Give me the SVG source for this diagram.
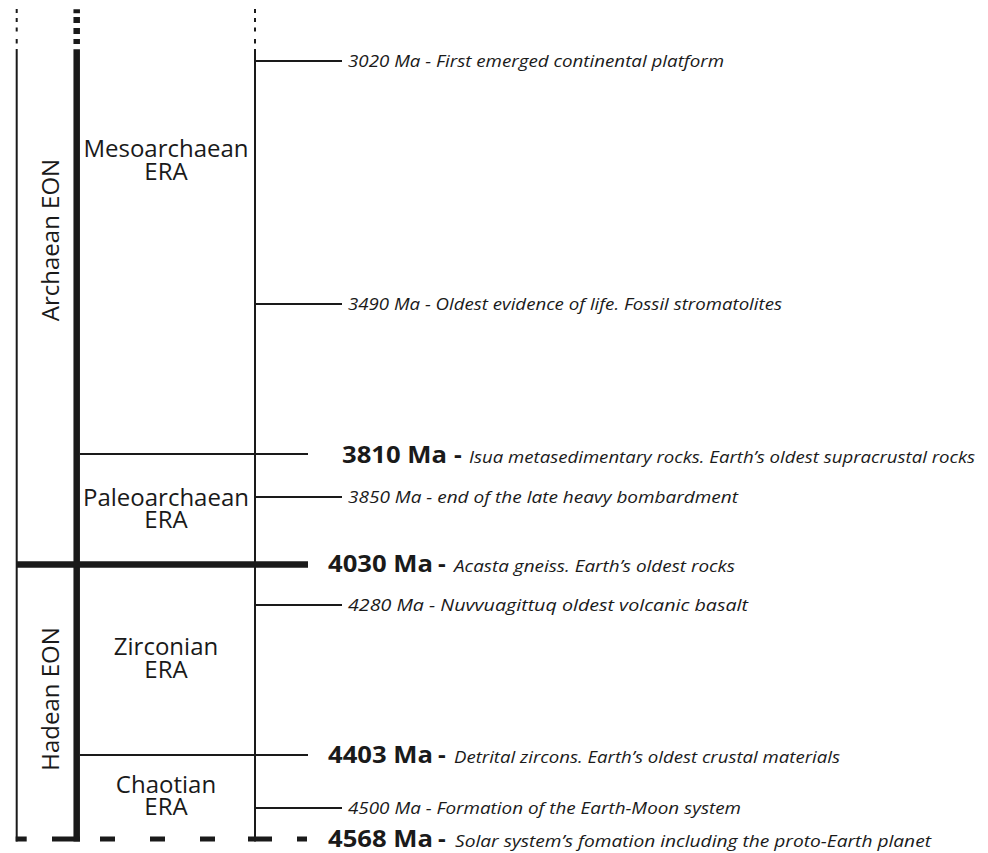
<svg xmlns="http://www.w3.org/2000/svg" width="988" height="853" viewBox="0 0 988 853">
  <style>
    .ink { fill: #1a1a1a; }
    .thin { stroke: #1a1a1a; stroke-width: 2; fill: none; }
    .heavy { stroke: #1a1a1a; stroke-width: 6.5; fill: none; }
    .label { font-family: "Open Sans", "Liberation Sans", sans-serif; font-size: 24px; fill: #1a1a1a; text-anchor: middle; }
    .date { font-family: "Open Sans", "Liberation Sans", sans-serif; font-size: 24px; font-weight: bold; fill: #1a1a1a; }
    .note { font-family: "Open Sans", "Liberation Sans", sans-serif; font-size: 17px; font-style: italic; fill: #1a1a1a; }
  </style>

  <!-- column rules and time markers -->
  <g id="connectors">
    <!-- outer eon rule -->
    <path class="thin" d="M16.7 9v4M16.7 18v4M16.7 27.5v4M16.7 39v4.5M16.7 49V841.5"/>
    <!-- era rule (heavy) -->
    <path class="heavy" d="M76.7 9.3v4M76.7 17v6M76.7 28v6M76.7 39v5M76.7 49.3V841.5"/>
    <!-- event rule -->
    <path class="thin" d="M255 9v4M255 18v4M255 27.5v4M255 39v4.5M255 49V841.5"/>

    <!-- eon boundary -->
    <line class="heavy" x1="16" y1="564.5" x2="308" y2="564.5"/>
    <!-- era boundaries -->
    <line class="thin" x1="80" y1="454" x2="308" y2="454"/>
    <line class="thin" x1="80" y1="755" x2="308" y2="755"/>
    <!-- event ticks -->
    <line class="thin" x1="255" y1="61" x2="342" y2="61"/>
    <line class="thin" x1="255" y1="304" x2="342" y2="304"/>
    <line class="thin" x1="255" y1="497" x2="342" y2="497"/>
    <line class="thin" x1="255" y1="605" x2="342" y2="605"/>
    <line class="thin" x1="255" y1="808" x2="342" y2="808"/>

    <!-- dashed base line -->
    <g class="ink">
      <rect x="15.7" y="836.5" width="11" height="5"/>
      <rect x="52" y="836.5" width="28" height="5"/>
      <rect x="100" y="836.5" width="15" height="5"/>
      <rect x="150" y="836.5" width="15" height="5"/>
      <rect x="200" y="836.5" width="15" height="5"/>
      <rect x="248" y="836.5" width="24" height="5"/>
      <rect x="297" y="836.5" width="10" height="5"/>
    </g>
  </g>

  <!-- eons -->
  <g id="eon-archaean">
    <text class="label" transform="translate(59 240) rotate(-90)">Archaean EON</text>
  </g>
  <g id="eon-hadean">
    <text class="label" transform="translate(59 699) rotate(-90)">Hadean EON</text>
  </g>

  <!-- eras -->
  <g id="era-mesoarchaean">
    <text class="label" x="166" y="157">Mesoarchaean</text>
    <text class="label" x="166" y="180">ERA</text>
  </g>
  <g id="era-paleoarchaean">
    <text class="label" x="166" y="506">Paleoarchaean</text>
    <text class="label" x="166" y="528">ERA</text>
  </g>
  <g id="era-zirconian">
    <text class="label" x="166" y="655">Zirconian</text>
    <text class="label" x="166" y="678">ERA</text>
  </g>
  <g id="era-chaotian">
    <text class="label" x="166" y="793">Chaotian</text>
    <text class="label" x="166" y="815">ERA</text>
  </g>

  <!-- events -->
  <g id="event-3020">
    <text class="note" x="348" y="67" textLength="376" lengthAdjust="spacingAndGlyphs">3020 Ma - First emerged continental platform</text>
  </g>
  <g id="event-3490">
    <text class="note" x="348" y="310" textLength="434" lengthAdjust="spacingAndGlyphs">3490 Ma - Oldest evidence of life. Fossil stromatolites</text>
  </g>
  <g id="event-3810">
    <text class="date" x="342" y="462.5" textLength="105" lengthAdjust="spacingAndGlyphs">3810 Ma</text>
    <text class="date" x="454" y="462.5">-</text>
    <text class="note" x="469" y="462.5" textLength="506" lengthAdjust="spacingAndGlyphs">Isua metasedimentary rocks. Earth’s oldest supracrustal rocks</text>
  </g>
  <g id="event-3850">
    <text class="note" x="348" y="503" textLength="390" lengthAdjust="spacingAndGlyphs">3850 Ma - end of the late heavy bombardment</text>
  </g>
  <g id="event-4030">
    <text class="date" x="328" y="572" textLength="105" lengthAdjust="spacingAndGlyphs">4030 Ma</text>
    <text class="date" x="438" y="572">-</text>
    <text class="note" x="454" y="572" textLength="281" lengthAdjust="spacingAndGlyphs">Acasta gneiss. Earth’s oldest rocks</text>
  </g>
  <g id="event-4280">
    <text class="note" x="348" y="611" textLength="400" lengthAdjust="spacingAndGlyphs">4280 Ma - Nuvvuagittuq oldest volcanic basalt</text>
  </g>
  <g id="event-4403">
    <text class="date" x="328" y="763" textLength="105" lengthAdjust="spacingAndGlyphs">4403 Ma</text>
    <text class="date" x="438" y="763">-</text>
    <text class="note" x="454" y="763" textLength="386" lengthAdjust="spacingAndGlyphs">Detrital zircons. Earth’s oldest crustal materials</text>
  </g>
  <g id="event-4500">
    <text class="note" x="348" y="814" textLength="393" lengthAdjust="spacingAndGlyphs">4500 Ma - Formation of the Earth-Moon system</text>
  </g>
  <g id="event-4568">
    <text class="date" x="328" y="847" textLength="105" lengthAdjust="spacingAndGlyphs">4568 Ma</text>
    <text class="date" x="438" y="847">-</text>
    <text class="note" x="455" y="847" textLength="476" lengthAdjust="spacingAndGlyphs">Solar system’s fomation including the proto-Earth planet</text>
  </g>
</svg>
